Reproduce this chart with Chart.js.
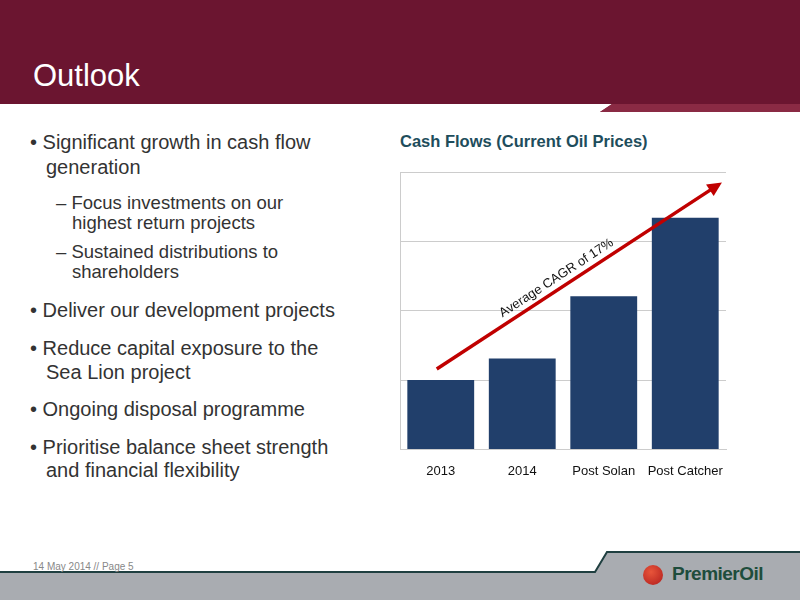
<!DOCTYPE html>
<html><head><meta charset="utf-8">
<script src="https://cdn.jsdelivr.net/npm/chart.js@4"></script>
<style>
body{margin:0;width:800px;height:600px;position:relative;overflow:hidden;background:#fff;font-family:"Liberation Sans",Arial,sans-serif}
#title{position:absolute;left:33px;top:58px;color:#fff;font-size:31px}
.t{position:absolute;color:#333;white-space:nowrap}
.m{font-size:20px;left:30px}
.s{font-size:18.5px;left:56px}
#ct{position:absolute;left:400px;top:132px;font-size:16.5px;font-weight:bold;color:#1e4d5c}
#wrap{position:absolute;left:370px;top:160px;width:370px;height:325px}
#foot{position:absolute;left:33px;top:561px;font-size:10px;color:#888}
#logo{position:absolute;left:672px;top:563px;font-size:19px;font-weight:bold;color:#1e4d3c;letter-spacing:-0.5px}
#dot{position:absolute;left:643px;top:565px;width:20px;height:20px;border-radius:50%;background:radial-gradient(circle at 40% 35%,#e8553a,#b01c1c)}
</style></head><body>
<svg width="800" height="600" style="position:absolute;left:0;top:0">
<polygon points="0,0 800,0 800,112 600,112 612,104 0,104" fill="#6b1530"/>
<polygon points="612,104 800,104 800,112 600,112" fill="#8a2a44"/>
<polygon points="0,572 595,572 607,552 800,552 800,600 0,600" fill="#a9acb1"/>
<polyline points="0,572 595,572 607,552 800,552" fill="none" stroke="#1f3f40" stroke-width="2"/>
</svg>
<div id="title">Outlook</div>
<div class="t m" style="top:131px">• Significant growth in cash flow</div>
<div class="t m" style="top:156px;left:46px">generation</div>
<div class="t s" style="top:192px">– Focus investments on our</div>
<div class="t s" style="top:212px;left:72px">highest return projects</div>
<div class="t s" style="top:241px">– Sustained distributions to</div>
<div class="t s" style="top:261px;left:72px">shareholders</div>
<div class="t m" style="top:299px">• Deliver our development projects</div>
<div class="t m" style="top:337px">• Reduce capital exposure to the</div>
<div class="t m" style="top:361px;left:46px">Sea Lion project</div>
<div class="t m" style="top:398px">• Ongoing disposal programme</div>
<div class="t m" style="top:436px">• Prioritise balance sheet strength</div>
<div class="t m" style="top:459px;left:46px">and financial flexibility</div>
<div id="ct">Cash Flows (Current Oil Prices)</div>
<div id="wrap"><canvas id="c"></canvas></div>
<div id="foot">14 May 2014 // Page 5</div>
<div id="dot"></div><div id="logo">PremierOil</div>
<script>
const categories=["2013","2014","Post Solan","Post Catcher"];
const cashFlow=[1.0,1.31,2.21,3.34];
const arrowFrom=[0,1.16];   // [category index, value]
const arrowTo=[3.45,3.85];
const arrowLabel="Average CAGR of 17%";
const arrowPlugin={id:'arrow',afterDatasetsDraw(ch){
 const x=ch.scales.x,y=ch.scales.y,c=ch.ctx;
 const x1=x.getPixelForValue(arrowFrom[0])-4,y1=y.getPixelForValue(arrowFrom[1]);
 const x2=x.getPixelForValue(arrowTo[0]),y2=y.getPixelForValue(arrowTo[1]);
 const a=Math.atan2(y2-y1,x2-x1);
 c.save();c.strokeStyle='#c00000';c.fillStyle='#c00000';c.lineWidth=3.5;
 c.beginPath();c.moveTo(x1,y1);c.lineTo(x2-10*Math.cos(a),y2-10*Math.sin(a));c.stroke();
 c.beginPath();c.moveTo(x2,y2);
 c.lineTo(x2-16*Math.cos(a-0.45),y2-16*Math.sin(a-0.45));
 c.lineTo(x2-16*Math.cos(a+0.45),y2-16*Math.sin(a+0.45));c.closePath();c.fill();
 const mx=x1+(x2-x1)*0.44,my=y1+(y2-y1)*0.44;
 c.translate(mx,my);c.rotate(a);c.fillStyle='#111';c.font='13px "Liberation Sans",Arial';
 c.textAlign='center';c.textBaseline='bottom';c.fillText(arrowLabel,0,-4);c.restore();}};
new Chart(document.getElementById('c'),{type:'bar',
 data:{labels:categories,datasets:[{data:cashFlow,backgroundColor:'#213f6b',categoryPercentage:0.82,barPercentage:1}]},
 options:{responsive:true,maintainAspectRatio:false,animation:false,
  layout:{padding:{left:30,right:14,top:12,bottom:0}},
  plugins:{legend:{display:false},tooltip:{enabled:false}},
  scales:{x:{grid:{display:false},border:{color:'#ccc'},ticks:{color:'#111',font:{size:13,family:'"Liberation Sans",Arial'},padding:6}},
   y:{min:0,max:4,ticks:{stepSize:1,display:false},grid:{color:'#ccc',drawTicks:false},border:{color:'#ccc'}}}},
 plugins:[arrowPlugin]});
</script>
</body></html>
